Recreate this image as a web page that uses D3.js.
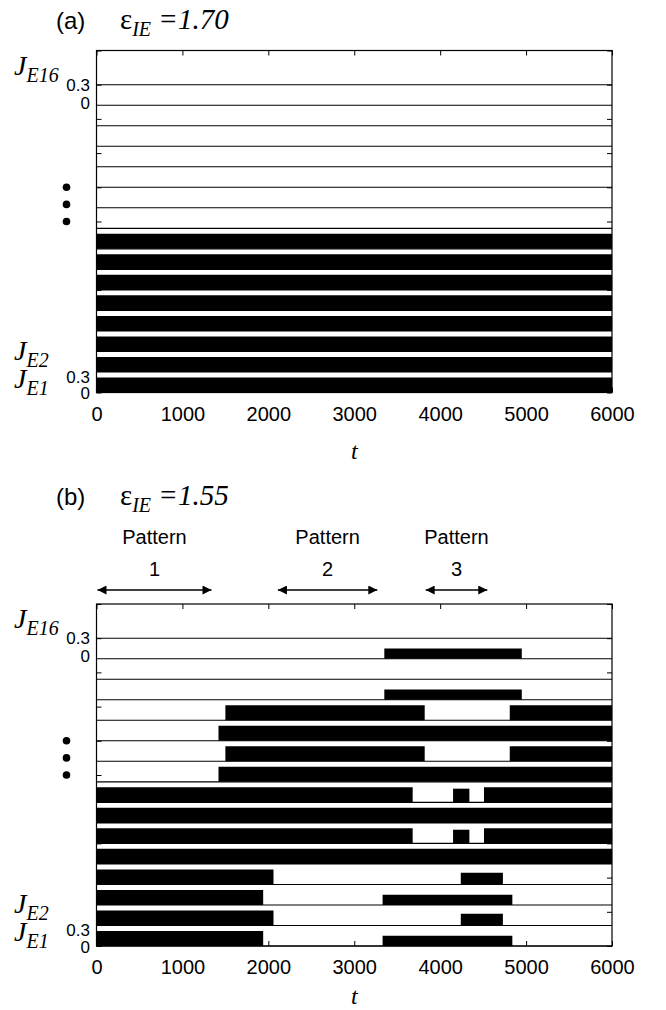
<!DOCTYPE html>
<html>
<head>
<meta charset="utf-8">
<script src="https://cdn.jsdelivr.net/npm/d3@7"></script>
<style>
  body { margin: 0; background: #fff; }
  svg { display: block; }
</style>
</head>
<body>
<svg id="chart"></svg>
<script>
var WIDTH = 666;
var HEIGHT = 1010;

// time axis
var tMax = 6000;
var xTicks = [0, 1000, 2000, 3000, 4000, 5000, 6000];
var yTicks = [0, 0.5, 1, 1.5, 2, 2.5, 3, 3.5, 4, 4.5, 5];
var traceStep = 0.3;   // vertical offset between J_E1 ... J_E16
var yMax = 5;

// active stretches of each trace, J_E1 first: [t start, t end, typical level]
var activeA = [
  [[0, 6000, 0.22]],
  [[0, 6000, 0.22]],
  [[0, 6000, 0.22]],
  [[0, 6000, 0.22]],
  [[0, 6000, 0.22]],
  [[0, 6000, 0.22]],
  [[0, 6000, 0.22]],
  [[0, 6000, 0.22]],
  [], [], [], [], [], [], [], []
];

var activeB = [
  [[0, 1940, 0.22], [3330, 4840, 0.15]],
  [[0, 2060, 0.22], [4240, 4730, 0.17]],
  [[0, 1940, 0.22], [3330, 4840, 0.15]],
  [[0, 2060, 0.22], [4240, 4730, 0.17]],
  [[0, 6000, 0.22]],
  [[0, 3680, 0.22], [4150, 4340, 0.2], [4510, 6000, 0.22]],
  [[0, 6000, 0.22]],
  [[0, 3680, 0.22], [4150, 4340, 0.2], [4510, 6000, 0.22]],
  [[1420, 6000, 0.22]],
  [[1500, 3820, 0.22], [4810, 6000, 0.22]],
  [[1420, 6000, 0.22]],
  [[1500, 3820, 0.22], [4810, 6000, 0.22]],
  [[3350, 4950, 0.15]],
  [],
  [[3350, 4950, 0.15]],
  []
];

// pattern arrows above panel (b)
var patternNames = ["1", "2", "3"];
var patternStart = [0, 2100, 3820];
var patternEnd = [1350, 3280, 4560];

var svg = d3.select("#chart")
    .attr("width", WIDTH)
    .attr("height", HEIGHT);

var defs = svg.append("defs");
defs.append("marker")
    .attr("id", "head")
    .attr("viewBox", "0 0 10 10")
    .attr("refX", 10).attr("refY", 5)
    .attr("markerWidth", 12).attr("markerHeight", 9)
    .attr("markerUnits", "userSpaceOnUse")
    .attr("orient", "auto-start-reverse")
    .append("path")
    .attr("d", "M0,0L10,5L0,10Z")
    .attr("fill", "#000");

var SANS = "'Liberation Sans', Arial, sans-serif";
var SERIF = "'Liberation Serif', 'Times New Roman', serif";

function drawPanel(top, titleY, labelGap, active, tag, epsValue) {
    var x = d3.scaleLinear().domain([0, tMax]).range([96.5, 612]);
    var y = d3.scaleLinear().domain([0, yMax]).range([top + 342, top]);
    var g = svg.append("g");

    // title
    g.append("text")
        .attr("x", 56).attr("y", titleY)
        .attr("font-family", SANS).attr("font-size", 24)
        .text(tag);
    var ttl = g.append("text")
        .attr("x", 120).attr("y", titleY)
        .attr("font-family", SERIF).attr("font-size", 29);
    ttl.append("tspan").text("\u03b5");
    ttl.append("tspan").attr("font-style", "italic").attr("font-size", 20)
        .attr("dy", 7).text("IE");
    ttl.append("tspan").attr("font-style", "italic")
        .attr("dy", -7).text(" =" + epsValue);

    // traces
    var area = d3.area()
        .x(function(d) { return x(d.t); })
        .y0(function(d) { return y(d.base); })
        .y1(function(d) { return y(d.base + d.v); });
    var line = d3.line()
        .x(function(d) { return x(d.t); })
        .y(function(d) { return y(d.base); });

    active.forEach(function(stretches, i) {
        var base = i * traceStep;
        g.append("path")
            .attr("d", line([{t: 0, base: base}, {t: tMax, base: base}]))
            .attr("stroke", "#000").attr("stroke-width", 1.1).attr("fill", "none");
        stretches.forEach(function(s) {
            g.append("path")
                .attr("d", area([{t: s[0], base: base, v: s[2]}, {t: s[1], base: base, v: s[2]}]))
                .attr("fill", "#000");
        });
    });

    // frame and ticks
    g.append("rect")
        .attr("x", x(0)).attr("y", y(yMax))
        .attr("width", x(tMax) - x(0)).attr("height", y(0) - y(yMax))
        .attr("fill", "none").attr("stroke", "#000").attr("stroke-width", 1.2);

    var axB = g.append("g")
        .attr("transform", "translate(0," + y(0) + ")")
        .call(d3.axisBottom(x).tickValues(xTicks).tickFormat(d3.format("d"))
            .tickSizeInner(-5).tickSizeOuter(0).tickPadding(14));
    axB.selectAll("text").attr("font-family", SANS).attr("font-size", 20).attr("fill", "#000");
    g.append("g")
        .attr("transform", "translate(0," + y(yMax) + ")")
        .call(d3.axisTop(x).tickValues(xTicks).tickSizeInner(-5).tickSizeOuter(0).tickFormat(""));
    g.append("g")
        .attr("transform", "translate(" + x(0) + ",0)")
        .call(d3.axisLeft(y).tickValues(yTicks).tickSizeInner(-5).tickSizeOuter(0).tickFormat(""));
    g.append("g")
        .attr("transform", "translate(" + x(tMax) + ",0)")
        .call(d3.axisRight(y).tickValues(yTicks).tickSizeInner(-5).tickSizeOuter(0).tickFormat(""));
    g.selectAll(".domain").remove();
    g.selectAll(".tick line").attr("stroke", "#000");

    // t label
    g.append("text")
        .attr("x", (x(0) + x(tMax)) / 2).attr("y", y(0) + labelGap)
        .attr("text-anchor", "middle")
        .attr("font-family", SERIF).attr("font-style", "italic").attr("font-size", 24)
        .text("t");

    // scale labels 0.3 / 0 beside top and bottom traces
    var topBase = (active.length - 2) * traceStep;
    var scaleLabels = [
        {v: topBase + traceStep, s: "0.3", dy: 0},
        {v: topBase, s: "0", dy: -2.5},
        {v: traceStep, s: "0.3", dy: 5},
        {v: 0, s: "0", dy: 1}
    ];
    g.selectAll(".sl").data(scaleLabels).enter().append("text")
        .attr("x", 90).attr("y", function(d) { return y(d.v) + d.dy; })
        .attr("dy", "0.35em")
        .attr("text-anchor", "end")
        .attr("font-family", SANS).attr("font-size", 17)
        .text(function(d) { return d.s; });

    // J labels
    var jLabels = [
        {v: topBase + traceStep, s: "E16", dy: -10},
        {v: traceStep, s: "E2", dy: -12},
        {v: 0, s: "E1", dy: -5}
    ];
    jLabels.forEach(function(d) {
        var t = g.append("text")
            .attr("x", 14).attr("y", y(d.v) + d.dy)
            .attr("font-family", SERIF).attr("font-style", "italic").attr("font-size", 28);
        t.append("tspan").text("J");
        t.append("tspan").attr("font-size", 20).attr("dy", 7).text(d.s);
    });

    // vertical ellipsis
    g.selectAll(".dot").data([3.0, 2.75, 2.5]).enter().append("circle")
        .attr("cx", 66.5).attr("cy", function(d) { return y(d); })
        .attr("r", 3.8).attr("fill", "#000");

    return x;
}

drawPanel(50.5, 29, 66, activeA, "(a)", "1.70");
var xb = drawPanel(604, 505, 58, activeB, "(b)", "1.55");

// pattern arrows
var pat = svg.append("g");
patternNames.forEach(function(name, i) {
    var cx = (xb(patternStart[i]) + xb(patternEnd[i])) / 2;
    pat.append("text").attr("x", cx).attr("y", 544)
        .attr("text-anchor", "middle").attr("font-family", SANS).attr("font-size", 20)
        .text("Pattern");
    pat.append("text").attr("x", cx).attr("y", 576)
        .attr("text-anchor", "middle").attr("font-family", SANS).attr("font-size", 20)
        .text(name);
    pat.append("line")
        .attr("x1", xb(patternStart[i]) + 1).attr("x2", xb(patternEnd[i]) - 1)
        .attr("y1", 590).attr("y2", 590)
        .attr("stroke", "#000").attr("stroke-width", 1.5)
        .attr("marker-start", "url(#head)").attr("marker-end", "url(#head)");
});
</script>
</body>
</html>
